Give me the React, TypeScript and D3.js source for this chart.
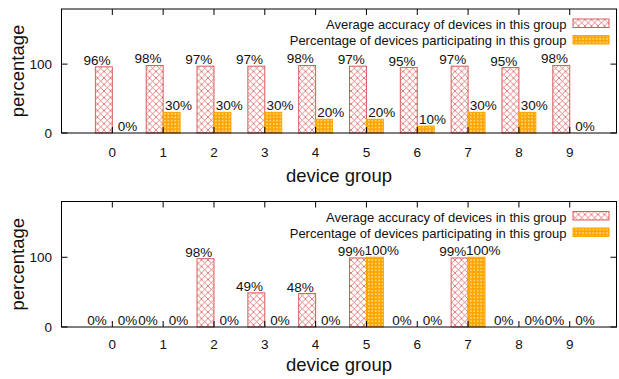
import React from 'react';
import * as d3 from 'd3';

const groups = [0, 1, 2, 3, 4, 5, 6, 7, 8, 9];
const topAccuracy = [96, 98, 97, 97, 98, 97, 95, 97, 95, 98];
const topParticipation = [0, 30, 30, 30, 20, 20, 10, 30, 30, 0];
const bottomAccuracy = [0, 0, 98, 49, 48, 99, 0, 99, 0, 0];
const bottomParticipation = [0, 0, 0, 0, 0, 100, 0, 100, 0, 0];
const yTicks = [0, 100];
const legendLabels = ['Average accuracy of devices in this group', 'Percentage of devices participating in this group'];

const RED = '#d95c5c';
const ORANGE = '#ffa500';
const FONT = '"Liberation Sans", Arial, sans-serif';
const W = 619;
const H = 379;

type PanelProps = { accuracy: number[]; participation: number[]; top: number; bottom: number; titleY: number; tickY: number };

const Panel = ({ accuracy, participation, top, bottom, titleY, tickY }: PanelProps) => {
    const left = 61.5;
    const right = 616.5;
    const x = d3.scaleLinear().domain([-1, 9.92]).range([left, right]);
    const y = d3.scaleLinear().domain([0, 180]).range([bottom, top]);
    const bw = x(1 / 3) - x(0);
    const series = [
        { values: accuracy, fill: 'url(#hatchRed)', stroke: RED, off: -1 / 3, lab: -0.3 },
        { values: participation, fill: 'url(#hatchOrange)', stroke: ORANGE, off: 0, lab: 0.3 },
    ];
    return (
        <g>
            {series.map((s, si) =>
                s.values.map((v, i) => (
                    <rect key={`b${si}-${i}`} x={x(groups[i] + s.off)} y={y(v)} width={bw} height={y(0) - y(v)}
                        fill={s.fill} stroke={v > 0 ? s.stroke : 'none'} strokeWidth={1} />
                ))
            )}
            {/* ticks */}
            {groups.map(g => (
                <g key={`t${g}`}>
                    <line x1={x(g)} x2={x(g)} y1={bottom} y2={bottom - 6} stroke="#000" strokeWidth={1} />
                    <line x1={x(g)} x2={x(g)} y1={top} y2={top + 6} stroke="#000" strokeWidth={1} />
                    <text x={x(g)} y={tickY} textAnchor="middle" fontSize={13.5} fontFamily={FONT} fill="#111">{g}</text>
                </g>
            ))}
            {yTicks.map(t => (
                <g key={`y${t}`}>
                    <line x1={left} x2={left + 6} y1={y(t)} y2={y(t)} stroke="#000" strokeWidth={1} />
                    <line x1={right} x2={right - 6} y1={y(t)} y2={y(t)} stroke="#000" strokeWidth={1} />
                    <text x={52} y={y(t) + 5} textAnchor="end" fontSize={13.5} fontFamily={FONT} fill="#111">{t}</text>
                </g>
            ))}
            <rect x={left} y={top} width={right - left} height={bottom - top} fill="none" stroke="#000" strokeWidth={1} />
            {/* value labels */}
            {series.map((s, si) =>
                s.values.map((v, i) => (
                    <text key={`l${si}-${i}`} x={x(groups[i] + s.lab)} y={y(v) - 2} textAnchor="middle" fontSize={13.5}
                        fontFamily={FONT} fill="#111">{`${v}%`}</text>
                ))
            )}
            {/* legend */}
            {legendLabels.map((lab, li) => (
                <g key={`lg${li}`}>
                    <text x={566.5} y={top + 20 + li * 16} textAnchor="end" fontSize={13} fontFamily={FONT} fill="#111">{lab}</text>
                    <rect x={573} y={top + 10 + li * 16.5} width={36} height={8.5} fill={series[li].fill} stroke={series[li].stroke} strokeWidth={1} />
                </g>
            ))}
            <text transform={`translate(17,${(top + bottom) / 2}) rotate(-90)`} textAnchor="middle" dominantBaseline="central"
                fontSize={18.5} fontFamily={FONT} fill="#111">percentage</text>
            <text x={(left + right) / 2} y={titleY} textAnchor="middle" fontSize={18.5} fontFamily={FONT} fill="#111">device group</text>
        </g>
    );
};

const App = () => (
    <svg width={W} height={H} style={{ position: 'absolute', left: 0, top: 0, background: '#fff' }}>
        <defs>
            <pattern id="hatchRed" patternUnits="userSpaceOnUse" width={6.5} height={6.5}>
                <rect width={6.5} height={6.5} fill="#fff" />
                <path d="M0,0L6.5,6.5M6.5,0L0,6.5" stroke={RED} strokeWidth={0.9} strokeOpacity={0.85} />
            </pattern>
            <pattern id="hatchOrange" patternUnits="userSpaceOnUse" width={3.4} height={3.4}>
                <rect width={3.4} height={3.4} fill={ORANGE} />
                <circle cx={1.7} cy={1.7} r={0.85} fill="#fff3c8" opacity={0.8} />
            </pattern>
        </defs>
        <rect width={W} height={H} fill="#fff" />
        <Panel accuracy={topAccuracy} participation={topParticipation} top={9} bottom={133} titleY={182} tickY={157} />
        <Panel accuracy={bottomAccuracy} participation={bottomParticipation} top={201.5} bottom={327} titleY={371} tickY={349} />
    </svg>
);

export default App;
